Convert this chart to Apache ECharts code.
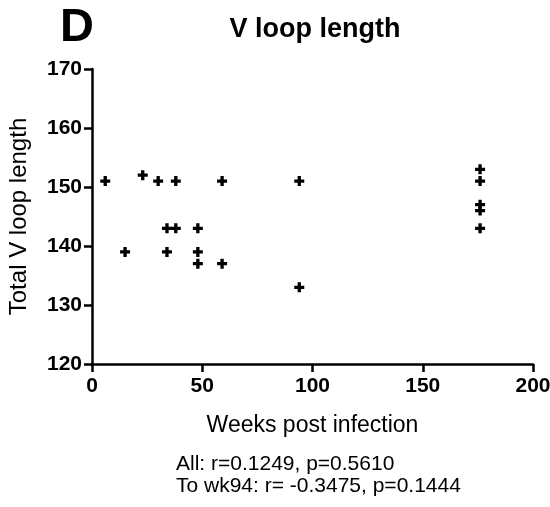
<!DOCTYPE html>
<html><head><meta charset="utf-8">
<script src="https://cdn.jsdelivr.net/npm/echarts@6/dist/echarts.min.js"></script>
<style>html,body{margin:0;padding:0;background:#fff}#c{width:550px;height:507px}</style>
</head><body><div id="c"></div>
<script>
var weeks = [6, 15, 23, 30, 34, 34, 38, 38, 48, 48, 48, 59, 59, 94, 94, 176, 176, 176, 176, 176];
var loopLength = [151, 139, 152, 151, 143, 139, 143, 151, 143, 139, 137, 151, 137, 151, 133, 153, 151, 147, 146, 143];
var xTicks = [0, 50, 100, 150, 200];
var yTicks = [120, 130, 140, 150, 160, 170];
var panelLabel = 'D';
var chartTitle = 'V loop length';
var xName = 'Weeks post infection';
var yName = 'Total V loop length';
var notes = ['All: r=0.1249, p=0.5610', 'To wk94: r= -0.3475, p=0.1444'];

var font = 'Liberation Sans, Arial, sans-serif';
var chart = echarts.init(document.getElementById('c'));
chart.setOption({
  animation: false,
  backgroundColor: '#fff',
  title: [
    {text: panelLabel, left: 60, top: 5, padding: 0, textStyle: {fontFamily: font, fontSize: 47, fontWeight: 'bold', color: '#000'}},
    {text: chartTitle, left: 315, top: 16, padding: 0, textAlign: 'center', textStyle: {fontFamily: font, fontSize: 27, fontWeight: 'bold', color: '#000'}}
  ],
  graphic: [
    {type: 'text', left: 176, top: 453, style: {text: notes.join('\n'), font: '21px ' + font, fill: '#000', lineHeight: 22}}
  ],
  grid: {left: 92, right: 17, top: 69, bottom: 143, containLabel: false, outerBoundsMode: 'none'},
  xAxis: {
    type: 'value', min: xTicks[0], max: xTicks[xTicks.length - 1], interval: 50,
    name: xName, nameLocation: 'middle', nameGap: 50,
    nameTextStyle: {fontFamily: font, fontSize: 23, color: '#000'},
    axisLine: {show: true, lineStyle: {color: '#000', width: 2.5}},
    axisTick: {show: true, length: 8, lineStyle: {color: '#000', width: 2.5}},
    axisLabel: {fontFamily: font, fontSize: 21, fontWeight: 'bold', color: '#000', margin: 12},
    splitLine: {show: false}
  },
  yAxis: {
    type: 'value', min: yTicks[0], max: yTicks[yTicks.length - 1], interval: 10,
    name: yName, nameLocation: 'middle', nameGap: 61, nameRotate: 90,
    nameTextStyle: {fontFamily: font, fontSize: 24, color: '#000'},
    axisLine: {show: true, lineStyle: {color: '#000', width: 2.5}},
    axisTick: {show: true, length: 8, lineStyle: {color: '#000', width: 2.5}},
    axisLabel: {fontFamily: font, fontSize: 21, fontWeight: 'bold', color: '#000', margin: 10},
    splitLine: {show: false}
  },
  series: [{
    type: 'scatter',
    data: weeks.map(function (w, i) { return [w, loopLength[i]]; }),
    symbol: 'path://M3,0H6V3H9V6H6V9H3V6H0V3H3Z',
    symbolSize: 10,
    itemStyle: {color: '#000', opacity: 1}
  }]
});
</script></body></html>
